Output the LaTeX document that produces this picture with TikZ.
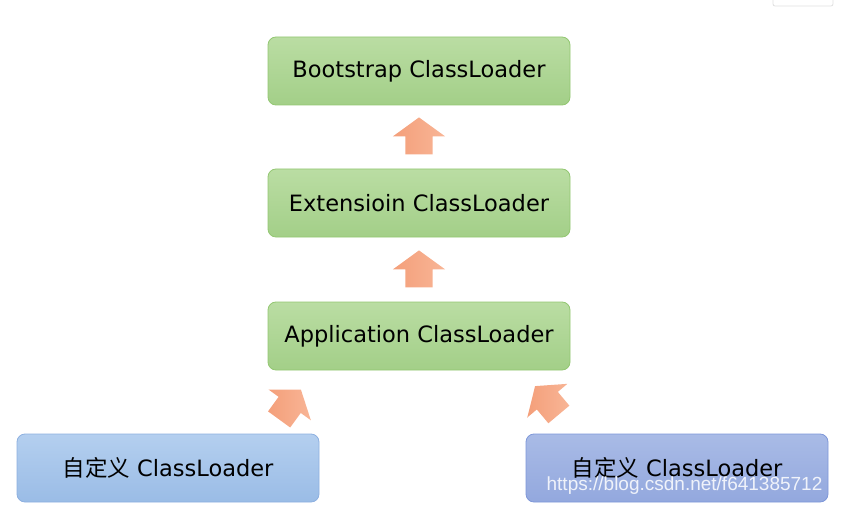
\documentclass[tikz,border=0pt]{standalone}
\usepackage{fontspec}
\setmainfont{DejaVu Sans}
\newfontfamily\cjk{Noto Sans CJK SC}
\newfontfamily\markfont{Liberation Sans}
\usetikzlibrary{positioning,shapes.arrows,calc}

\definecolor{greentop}{HTML}{BADDA3}
\definecolor{greenbot}{HTML}{A3CF88}
\definecolor{greenline}{HTML}{93C772}
\definecolor{bluetop}{HTML}{B4CFEF}
\definecolor{bluebot}{HTML}{9ABCE6}
\definecolor{blueline}{HTML}{8DB0E0}
\definecolor{violettop}{HTML}{A9BBE6}
\definecolor{violetbot}{HTML}{93A8DE}
\definecolor{violetline}{HTML}{7E97D9}
\definecolor{arrowtop}{HTML}{F8B596}
\definecolor{arrowbot}{HTML}{F49F7A}

\begin{document}
\begin{tikzpicture}[x=1pt, y=-1pt,
    loader/.style={rounded corners=8pt, minimum width=302pt, minimum height=68pt,
        line width=0.8pt, font=\fontsize{22.5}{26}\selectfont},
    greenbox/.style={loader, draw=greenline, top color=greentop, bottom color=greenbot},
    bluebox/.style={loader, draw=blueline, top color=bluetop, bottom color=bluebot},
    violetbox/.style={loader, draw=violetline, top color=violettop, bottom color=violetbot},
    delegate/.style={single arrow, draw=none, inner xsep=0pt, inner ysep=13.5pt,
        minimum width=52pt, minimum height=37pt, single arrow head extend=12.5pt,
        single arrow tip angle=108, anchor=tail, left color=arrowbot, right color=arrowtop}]

    \useasboundingbox (0,0) rectangle (865,532);

    % Corner of page frame
    \draw[gray!25, line width=0.8pt, rounded corners=2pt] (773,-4) rectangle (833,6);

    % Class loaders
    \node[greenbox] (boot) at (419,71) {Bootstrap ClassLoader};
    \node[greenbox] (ext) at (419,203) {Extensioin ClassLoader};
    \node[greenbox] (app) at (419,336) {Application ClassLoader};
    \node[bluebox] (userA) at (168,468) {{\cjk 自定义} ClassLoader};
    \node[violetbox] (userB) at (677,468) {{\cjk 自定义} ClassLoader};

    % Parent delegation arrows
    \node[delegate, rotate=90] (upA) at ($(ext.north)+(0,-14)$) {};
    \node[delegate, rotate=90] (upB) at ($(app.north)+(0,-14)$) {};
    \node[delegate, rotate=54] (upC) at ($(userA.north)+(111,-14)$) {};
    \node[delegate, rotate=130] (upD) at ($(userB.north)+(-118,-19)$) {};

    % Watermark
    \node[font=\markfont\fontsize{19}{22}\selectfont, text=white, opacity=0.85]
        (mark) at (684.5,486) {https://blog.csdn.net/f641385712};
\end{tikzpicture}
\end{document}
